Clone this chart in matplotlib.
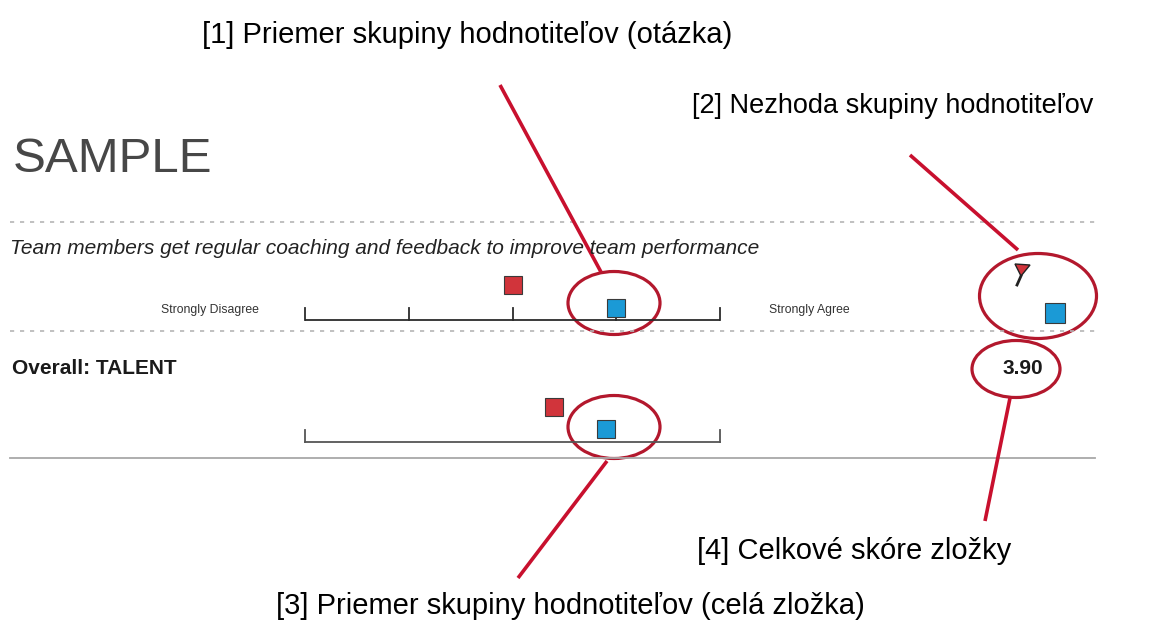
import matplotlib
matplotlib.use("Agg")
import matplotlib.pyplot as plt
from matplotlib.patches import Ellipse, Polygon

plt.rcParams['font.family'] = ['Liberation Sans', 'DejaVu Sans']

# ---------------- data ----------------
scale_ticks = [1, 2, 3, 4, 5]
scale_labels = ["Strongly Disagree", "Strongly Agree"]
question_text = "Team members get regular coaching and feedback to improve team performance"
question_self = 3.0      # red square
question_group = 4.0     # blue square (group average, question)
overall_label = "Overall: TALENT"
overall_self = 3.4       # red square
overall_group = 3.9      # blue square (group average, whole component)
overall_score = 3.90
annotations = ["[1] Priemer skupiny hodnotiteľov (otázka)",
               "[2] Nezhoda skupiny hodnotiteľov",
               "[3] Priemer skupiny hodnotiteľov (celá zložka)",
               "[4] Celkové skóre zložky"]

W, H = 1151, 630
RED = "#d1343b"
BLUE = "#1b9ad6"
EDGE = "#3a3a3a"
ANN = "#c8102e"
ELL = "#b3182d"

fig = plt.figure(figsize=(W / 100, H / 100), dpi=100)
ax = fig.add_axes([0, 0, 1, 1])
ax.set_xlim(0, W)
ax.set_ylim(H, 0)
ax.axis("off")


def row_axes(x0, x1, ytop, ybase):
    a = fig.add_axes([x0 / W, 1 - ybase / H, (x1 - x0) / W, (ybase - ytop) / H])
    a.set_xlim(1, 5)
    a.set_ylim(0, ybase - ytop)
    a.axis("off")
    return a


# ---------------- header ----------------
ax.text(13, 160, "SAMPLE", fontsize=35.5, color="#474747", va="center", ha="left")
ax.plot([10, 1095], [222, 222], color="#b5b5b5", lw=1.2, ls=(0, (2.5, 3.5)))
ax.text(10, 249, question_text, fontsize=15.0, style="italic", color="#222222",
        va="center", ha="left")

# ---------------- question row ----------------
r1 = row_axes(305, 720, 270, 320)
r1.plot([1, 5], [0, 0], color="#2b2b2b", lw=1.3, solid_capstyle="butt", clip_on=False)
for t in scale_ticks:
    r1.plot([t, t], [0, 12], color="#2b2b2b", lw=1.3, clip_on=False)
r1.plot([question_self], [35], marker="s", ms=13.5, mfc=RED, mec=EDGE, mew=0.8,
        ls="none", clip_on=False)
r1.plot([question_group], [12], marker="s", ms=13.5, mfc=BLUE, mec=EDGE, mew=0.8,
        ls="none", clip_on=False)
ax.text(210, 310, scale_labels[0], fontsize=8.8, color="#333333", ha="center", va="center")
ax.text(809, 310, scale_labels[1], fontsize=8.8, color="#333333", ha="center", va="center")

# disagreement flag + group square on the right
ax.add_patch(Polygon([[1015, 264], [1030, 265], [1021, 276]], closed=True,
                     fc=RED, ec="#222222", lw=1.0))
ax.plot([1021, 1017], [276, 285], color="#222222", lw=2)
ax.plot([1055], [313], marker="s", ms=14, mfc=BLUE, mec=EDGE, mew=0.8, ls="none")

ax.plot([10, 1095], [331, 331], color="#b5b5b5", lw=1.2, ls=(0, (2.5, 3.5)))

# ---------------- overall row ----------------
ax.text(12, 369, overall_label, fontsize=15, fontweight="bold", color="#1a1a1a",
        va="center", ha="left")
ax.text(1023, 369, f"{overall_score:.2f}", fontsize=15, fontweight="bold",
        color="#1a1a1a", va="center", ha="center")

r2 = row_axes(305, 720, 392, 442)
r2.plot([1, 5], [0, 0], color="#555555", lw=1.3, clip_on=False)
for t in (scale_ticks[0], scale_ticks[-1]):
    r2.plot([t, t], [0, 12], color="#555555", lw=1.3, clip_on=False)
r2.plot([overall_self], [35], marker="s", ms=13.5, mfc=RED, mec=EDGE, mew=0.8,
        ls="none", clip_on=False)
r2.plot([overall_group], [13], marker="s", ms=13.5, mfc=BLUE, mec=EDGE, mew=0.8,
        ls="none", clip_on=False)

ax.plot([10, 1095], [458, 458], color="#a8a8a8", lw=1.3)

# ---------------- annotations ----------------
for (cx, cy, w, h) in [(614, 303, 92, 63), (1038, 296, 117, 85),
                       (614, 427, 92, 63), (1016, 369, 88, 57)]:
    ax.add_patch(Ellipse((cx, cy), w, h, fill=False, ec=ELL, lw=2.3))

for (x0, y0, x1, y1) in [(500, 85, 601, 272), (910, 155, 1018, 250),
                         (607, 461, 518, 578), (1010, 398, 985, 521)]:
    ax.plot([x0, x1], [y0, y1], color=ANN, lw=2.6, solid_capstyle="butt")

ax.text(467, 35, annotations[0], fontsize=21, ha="center", va="center", color="black")
ax.text(1093, 106, annotations[1], fontsize=19.5, ha="right", va="center", color="black")
ax.text(570, 606, annotations[2], fontsize=21, ha="center", va="center", color="black")
ax.text(697, 551, annotations[3], fontsize=21, ha="left", va="center", color="black")

fig.savefig("out.png", dpi=100, facecolor="white")
